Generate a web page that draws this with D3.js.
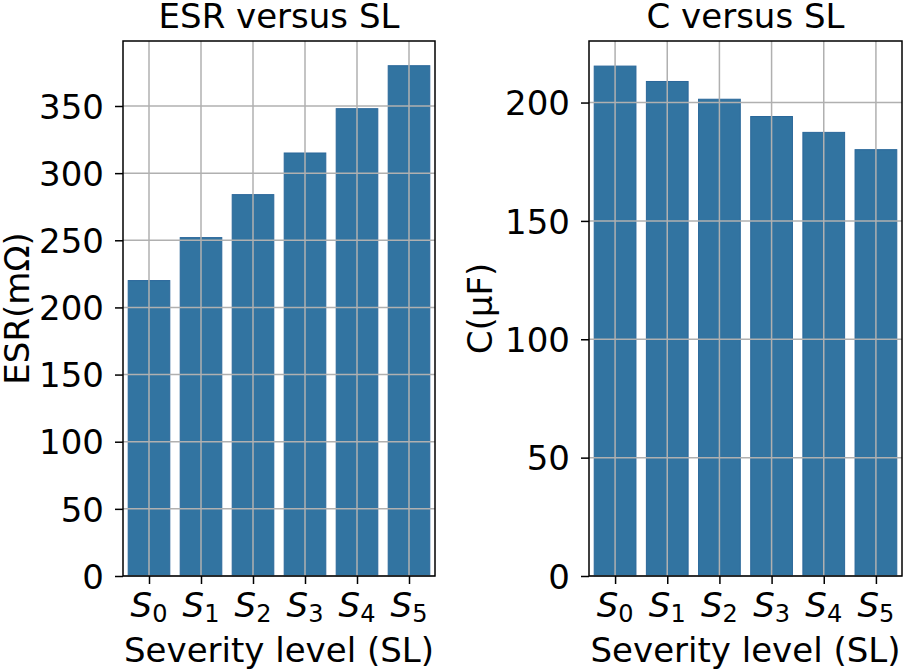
<!DOCTYPE html>
<html>
<head>
<meta charset="utf-8">
<script src="https://cdn.jsdelivr.net/npm/d3@7"></script>
<style>
  body { margin: 0; background: #fff; }
  text { font-family: "DejaVu Sans", sans-serif; fill: #000; }
</style>
</head>
<body>
<svg id="chart" width="907" height="671"></svg>
<script>
// severity levels (subscript digits)
var levels = ["0", "1", "2", "3", "4", "5"]
var esrValues = [220, 252, 284, 315, 348, 380]
var capValues = [215.4, 208.9, 201.4, 194.1, 187.4, 180.1]
var esrTicks = [0, 50, 100, 150, 200, 250, 300, 350]
var capTicks = [0, 50, 100, 150, 200]

var svg = d3.select("#chart")
var barColor = "#3274a1"
var fontSize = 34

function drawPanel(opts){
	var x0 = opts.left, x1 = opts.right, y0 = 41, y1 = 576

	var x = d3.scaleLinear().domain([-0.5, 5.5]).range([x0, x1])
	var y = d3.scaleLinear().domain([0, opts.ymax]).range([y1, y0])
	var g = svg.append("g")

	// bars
	g.selectAll("rect.bar")
		.data(opts.values)
		.enter().append("rect")
		.attr("class", "bar")
		.attr("x", (d, i) => x(i - 0.4))
		.attr("width", x(0.4) - x(-0.4))
		.attr("y", d => y(d))
		.attr("height", d => y(0) - y(d))
		.attr("fill", barColor)
		.attr("stroke", "#2a679a")
		.attr("stroke-width", 1)

	// grid on top of bars
	g.selectAll("line.vgrid")
		.data(levels)
		.enter().append("line")
		.attr("x1", (d, i) => x(i)).attr("x2", (d, i) => x(i))
		.attr("y1", y0).attr("y2", y1)
		.attr("stroke", "#b0b0b0").attr("stroke-width", 1.5)
	g.selectAll("line.hgrid")
		.data(opts.ticks)
		.enter().append("line")
		.attr("x1", x0).attr("x2", x1)
		.attr("y1", d => y(d)).attr("y2", d => y(d))
		.attr("stroke", "#b0b0b0").attr("stroke-width", 1.5)

	// y axis
	var yAxis = d3.axisLeft(y).tickValues(opts.ticks).tickSize(8).tickPadding(11)
	var ya = g.append("g").attr("transform", "translate(" + x0 + ",0)").call(yAxis)
	ya.select(".domain").remove()
	ya.selectAll("line").attr("stroke", "#000").attr("stroke-width", 1.5)
	ya.selectAll("text").style("font-size", fontSize + "px").style("font-family", "DejaVu Sans")
		.attr("dy", "0.36em")

	// x axis
	var xAxis = d3.axisBottom(x).tickValues(d3.range(levels.length)).tickSize(8).tickFormat("")
	var xa = g.append("g").attr("transform", "translate(0," + y1 + ")").call(xAxis)
	xa.select(".domain").remove()
	xa.selectAll("line").attr("stroke", "#000").attr("stroke-width", 1.5)
	levels.forEach(function(l, i){
		var t = g.append("text")
			.attr("x", x(i))
			.attr("y", 617)
			.attr("text-anchor", "middle")
			.style("font-size", fontSize + "px")
		t.append("tspan").style("font-style", "italic").text("S")
		t.append("tspan").attr("dy", 5).style("font-size", "24px").text(l)
	})

	// frame
	g.append("rect")
		.attr("x", x0).attr("y", y0)
		.attr("width", x1 - x0).attr("height", y1 - y0)
		.attr("fill", "none").attr("stroke", "#000").attr("stroke-width", 1.5)

	// titles
	g.append("text")
		.attr("x", (x0 + x1) / 2).attr("y", 28)
		.attr("text-anchor", "middle")
		.style("font-size", fontSize + "px")
		.text(opts.title)
	g.append("text")
		.attr("x", (x0 + x1) / 2).attr("y", 662)
		.attr("text-anchor", "middle")
		.style("font-size", fontSize + "px")
		.text("Severity level (SL)")
	g.append("text")
		.attr("transform", "translate(" + opts.ylabelX + "," + ((y0 + y1) / 2) + ") rotate(-90)")
		.attr("text-anchor", "middle")
		.style("font-size", fontSize + "px")
		.text(opts.ylabel)
}

drawPanel({left: 123, right: 435, ymax: 398.4, values: esrValues, ticks: esrTicks,
	title: "ESR versus SL", ylabel: "ESR(m\u03a9)", ylabelX: 29})
drawPanel({left: 589, right: 902, ymax: 226, values: capValues, ticks: capTicks,
	title: "C versus SL", ylabel: "C(\u03bcF)", ylabelX: 492})
</script>
</body>
</html>
